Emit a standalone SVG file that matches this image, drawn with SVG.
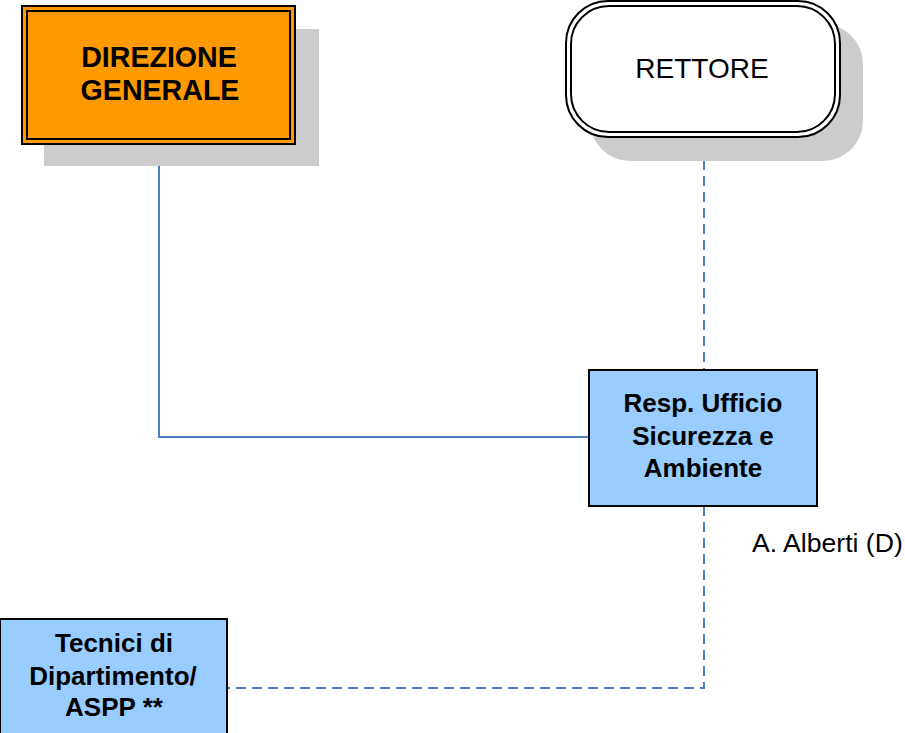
<svg xmlns="http://www.w3.org/2000/svg" width="905" height="733" viewBox="0 0 905 733">
<style>
text{font-family:"Liberation Sans",Arial,sans-serif;fill:#000;text-anchor:middle}
.b{font-weight:bold}
.t28{font-size:28px}
.t29{font-size:28.6px}
.t26{font-size:26px}
.blue{fill:#99CCFF;stroke:#000;stroke-width:2}
.shadow{fill:#CCCCCC}
.con{fill:none;stroke:#4F7EC8;stroke-width:2}
.dash{stroke-dasharray:10,6}
</style>
<rect width="905" height="733" fill="#fff"/>
<g id="connectors">
<polyline class="con" points="159,144 159,437 589,437"/>
<line class="con dash" x1="704" y1="160" x2="704" y2="370"/>
<polyline class="con dash" points="704,506 704,688 227,688"/>
</g>
<g id="direzione">
<rect class="shadow" x="44" y="29" width="275" height="137"/>
<rect x="22" y="6" width="273" height="138" fill="#FF9900" stroke="#000" stroke-width="2"/>
<rect x="27" y="11" width="263" height="128" fill="none" stroke="#000" stroke-width="2"/>
<text class="b t29" x="159" y="67">DIREZIONE</text>
<text class="b t29" x="160" y="100">GENERALE</text>
</g>
<g id="rettore">
<rect class="shadow" x="590" y="24" width="273" height="137" rx="40"/>
<rect x="566" y="1" width="274" height="136" rx="42" fill="#fff" stroke="#000" stroke-width="2"/>
<rect x="571" y="6" width="264" height="126" rx="38" fill="none" stroke="#000" stroke-width="2"/>
<text class="t28" x="702" y="78">RETTORE</text>
</g>
<g id="resp">
<rect class="blue" x="589" y="370" width="228" height="136"/>
<text class="b t26" x="703" y="412">Resp. Ufficio</text>
<text class="b t26" x="703" y="445">Sicurezza e</text>
<text class="b t26" x="703" y="477">Ambiente</text>
</g>
<g id="alberti">
<text x="752" y="552" style="text-anchor:start;font-size:26.6px">A. Alberti (D)</text>
</g>
<g id="tecnici">
<rect class="blue" x="0" y="619" width="227" height="116"/>
<text class="b t26" x="114" y="652">Tecnici di</text>
<text class="b t26" x="113" y="685">Dipartimento/</text>
<text class="b t26" x="114" y="716">ASPP **</text>
</g>
</svg>
